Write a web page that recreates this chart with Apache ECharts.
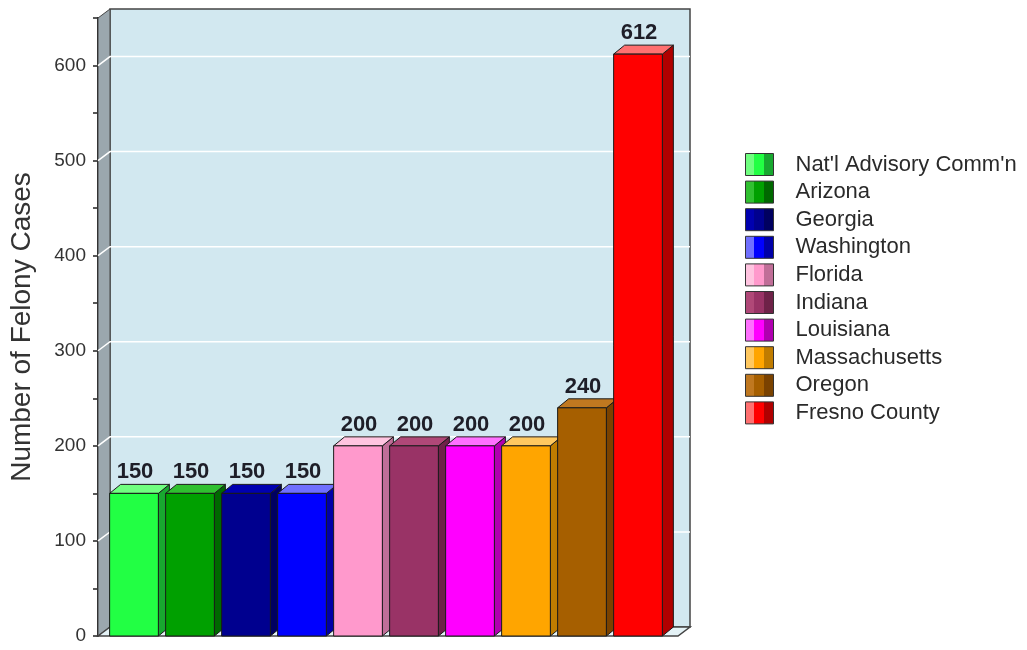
<!DOCTYPE html>
<html>
<head>
<meta charset="utf-8">
<script src="https://cdn.jsdelivr.net/npm/echarts@6/dist/echarts.min.js"></script>
<style>
  html, body { margin: 0; padding: 0; background: #fff; }
  #chart { width: 1027px; height: 650px; }
</style>
</head>
<body>
<div id="chart"></div>
<script>
// data
var categories = ["Nat'l Advisory Comm'n", 'Arizona', 'Georgia', 'Washington', 'Florida',
  'Indiana', 'Louisiana', 'Massachusetts', 'Oregon', 'Fresno County'];
var values = [150, 150, 150, 150, 200, 200, 200, 200, 240, 612];
var gridValues = [100, 200, 300, 400, 500, 600];
var yMax = 650;

// colours: front face, side face, top face
var frontColors = ['#22ff44', '#00a000', '#00008f', '#0000ff', '#ff99cc', '#993366', '#ff00ff', '#ffa500', '#a65f00', '#ff0000'];
var sideColors = ['#18a830', '#006800', '#000060', '#0000a8', '#c06e98', '#6e2248', '#b000b0', '#c07c00', '#7a4200', '#b00000'];
var topColors = ['#70ff80', '#30c030', '#0000b0', '#7070ff', '#ffc4e0', '#b04878', '#ff70ff', '#ffc860', '#c07820', '#ff7070'];

var DX = 12, DY = -9;     // depth of the box
var BDX = 11, BDY = -9;   // depth of the bars

window.addEventListener('load', function () {
  var myChart = echarts.init(document.getElementById('chart'));

  // back wall, left wall, floor and grid lines
  function renderWalls(params, api) {
    var cs = params.coordSys;
    var xl = cs.x - 9, xr = cs.x + cs.width + 11;
    var yb = api.coord([0, 0])[1];
    var yt = api.coord([0, yMax])[1];
    var kids = [];
    kids.push({
      type: 'rect',
      shape: { x: xl + DX, y: yt + DY, width: xr - xl, height: yb - yt },
      style: { fill: '#d2e8f0', stroke: '#444', lineWidth: 1.5 }
    });
    kids.push({
      type: 'polygon',
      shape: { points: [[xl, yt], [xl + DX, yt + DY], [xl + DX, yb + DY], [xl, yb]] },
      style: { fill: '#9ba7ae', stroke: '#444', lineWidth: 1 }
    });
    kids.push({
      type: 'polygon',
      shape: { points: [[xl, yb], [xr, yb], [xr + DX, yb + DY], [xl + DX, yb + DY]] },
      style: { fill: '#e4f2f6', stroke: '#444', lineWidth: 1.5 }
    });
    gridValues.forEach(function (v) {
      var y = api.coord([0, v])[1];
      kids.push({
        type: 'polyline',
        shape: { points: [[xl, y], [xl + DX, y + DY], [xr + DX, y + DY]] },
        style: { stroke: '#ffffff', lineWidth: 1.5, fill: null }
      });
    });
    return { type: 'group', children: kids };
  }

  function makeBarRenderer(idx) {
    return function (params, api) {
      var i = api.value(0);
      var p0 = api.coord([i, 0]);
      var p1 = api.coord([i, api.value(1)]);
      var w = api.size([1, 0])[0] * 0.87;
      var cx = p0[0] - 1;
      var x0 = cx - w / 2, x1 = cx + w / 2;
      var y0 = p0[1], y1 = p1[1];
      var edge = { stroke: '#1a1a1a', lineWidth: 1 };
      return {
        type: 'group',
        children: [
          {
            type: 'polygon',
            shape: { points: [[x1, y1], [x1 + BDX, y1 + BDY], [x1 + BDX, y0 + BDY], [x1, y0]] },
            style: Object.assign({ fill: sideColors[idx] }, edge)
          },
          {
            type: 'polygon',
            shape: { points: [[x0, y1], [x1, y1], [x1 + BDX, y1 + BDY], [x0 + BDX, y1 + BDY]] },
            style: Object.assign({ fill: topColors[idx] }, edge)
          },
          {
            type: 'rect',
            shape: { x: x0, y: y1, width: w, height: y0 - y1 },
            style: Object.assign({ fill: frontColors[idx] }, edge)
          },
          {
            type: 'text',
            x: cx + 1,
            y: y1 + BDY - 1,
            style: {
              text: String(api.value(1)),
              align: 'center',
              verticalAlign: 'bottom',
              fill: '#1e1e28',
              font: 'bold 22px "Liberation Sans", Arial, sans-serif'
            }
          }
        ]
      };
    };
  }

  var series = [{
    type: 'custom',
    name: 'walls',
    silent: true,
    z: 1,
    renderItem: renderWalls,
    data: [[0, 0]]
  }];
  categories.forEach(function (c, i) {
    series.push({
      type: 'custom',
      name: c,
      z: 3,
      itemStyle: { color: frontColors[i] },
      renderItem: makeBarRenderer(i),
      data: [[i, values[i]]]
    });
  });

  var legendData = categories.map(function (c, i) {
    return {
      name: c,
      itemStyle: {
        color: {
          type: 'linear', x: 0, y: 0, x2: 1, y2: 0,
          colorStops: [
            { offset: 0, color: topColors[i] }, { offset: 0.3, color: topColors[i] },
            { offset: 0.3, color: frontColors[i] }, { offset: 0.65, color: frontColors[i] },
            { offset: 0.65, color: sideColors[i] }, { offset: 1, color: sideColors[i] }
          ]
        },
        borderColor: '#333',
        borderWidth: 1
      }
    };
  });

  var option = {
    animation: false,
    grid: { left: 106, right: 360, top: 18, bottom: 14 },
    legend: {
      orient: 'vertical',
      left: 740,
      top: 148,
      itemWidth: 28,
      itemHeight: 22,
      itemGap: 4.6,
      icon: 'rect',
      selectedMode: false,
      data: legendData,
      textStyle: {
        fontSize: 22,
        lineHeight: 22,
        color: '#2a2a2a',
        fontFamily: '"Liberation Sans", Arial, sans-serif',
        padding: [0, 0, 0, 17]
      }
    },
    xAxis: {
      type: 'category',
      data: categories,
      axisLine: { show: false },
      axisTick: { show: false },
      axisLabel: { show: false },
      splitLine: { show: false }
    },
    yAxis: {
      type: 'value',
      min: 0,
      max: yMax,
      interval: 50,
      offset: 9,
      name: 'Number of Felony Cases',
      nameLocation: 'middle',
      nameGap: 62,
      nameTextStyle: {
        fontSize: 28,
        color: '#333',
        fontFamily: '"Liberation Sans", Arial, sans-serif'
      },
      axisLine: { show: true, lineStyle: { color: '#222', width: 2 } },
      axisTick: { show: true, length: 5, lineStyle: { color: '#222', width: 1.5 } },
      axisLabel: {
        fontSize: 19,
        color: '#333',
        margin: 12,
        fontFamily: '"Liberation Sans", Arial, sans-serif',
        formatter: function (v) { return (v % 100 === 0 && v <= 600) ? String(v) : ''; }
      },
      splitLine: { show: false }
    },
    series: series
  };

  myChart.setOption(option);
});
</script>
</body>
</html>
